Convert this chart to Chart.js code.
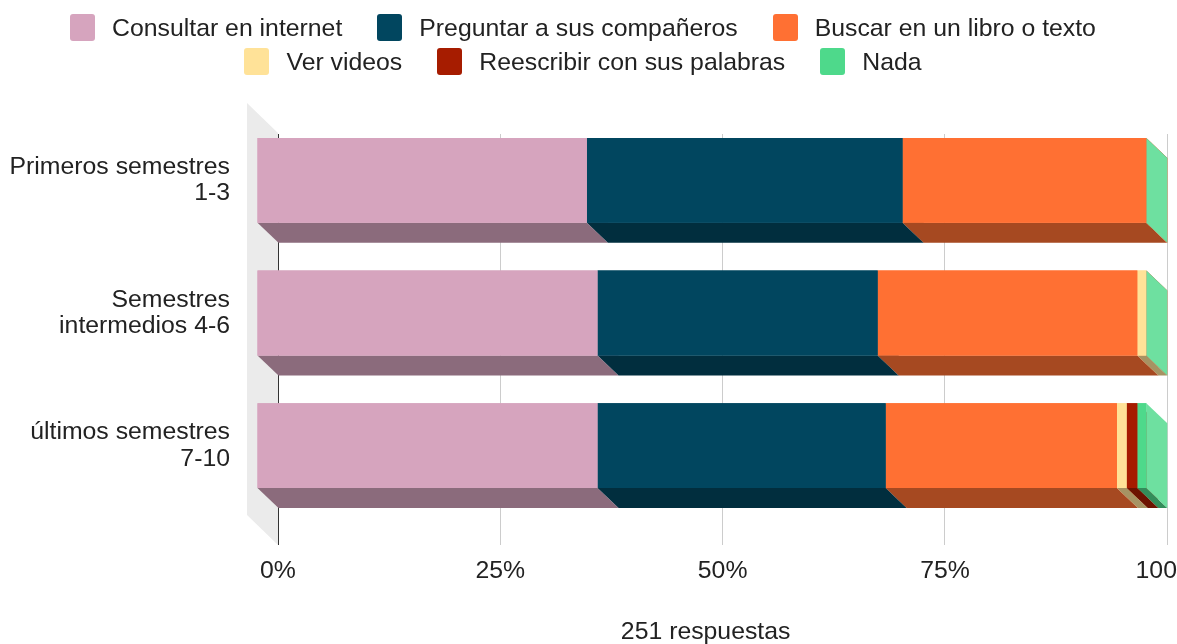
<!DOCTYPE html>
<html>
<head>
<meta charset="utf-8">
<script src="https://cdn.jsdelivr.net/npm/chart.js"></script>
<style>
    body { margin: 0; overflow: hidden; background: #fff; }
    #contenedor { position: absolute; left: 0; top: 0; width: 1210px; height: 644px; }
    #leyenda {
        position: absolute; left: 0; top: 14px; width: 1166px; padding: 0 20px; box-sizing: border-box;
        display: flex; flex-wrap: wrap; justify-content: center; column-gap: 35px; row-gap: 7px;
        font: 24.8px 'Liberation Sans', Arial, sans-serif; color: #222;
    }
    .item { display: flex; align-items: center; height: 27px; gap: 17px; white-space: nowrap; }
    .caja { width: 25px; height: 27px; border-radius: 3px; }
</style>
</head>
<body>
<div id="contenedor"><canvas id="graphic-3d" width="1210" height="644"></canvas></div>
<div id="leyenda"></div>
<script>
// Datos (porcentaje de respuestas por grupo)
const categorias = [['Primeros semestres', '1-3'], ['Semestres', 'intermedios 4-6'], ['últimos semestres', '7-10']];
const series = ['Consultar en internet', 'Preguntar a sus compañeros', 'Buscar en un libro o texto', 'Ver videos', 'Reescribir con sus palabras', 'Nada'];
const colores = ['#d6a4be', '#01465f', '#ff7033', '#ffe298', '#a61c00', '#4ed98b'];
const consultar = [37.1, 38.3, 38.3];
const preguntar = [35.5, 31.5, 32.4];
const buscar = [27.4, 29.2, 26.0];
const videos = [0, 1.0, 1.1];
const reescribir = [0, 0, 1.2];
const nada = [0, 0, 1.0];
const ticksX = [0, 25, 50, 75, 100];
const totalRespuestas = '251 respuestas';

const valores = [consultar, preguntar, buscar, videos, reescribir, nada];
const DX = 21, DY = 20;
const fuente = "'Liberation Sans', Arial, sans-serif";
const tamFuente = 24.8;

function mezcla(hex, f, hacia) {
    const n = parseInt(hex.slice(1), 16);
    const c = [(n >> 16) & 255, (n >> 8) & 255, n & 255].map(v => Math.round(v + (hacia - v) * f));
    return 'rgb(' + c.join(',') + ')';
}

function poligono(ctx, pts, color) {
    ctx.beginPath();
    ctx.moveTo(pts[0][0], pts[0][1]);
    for (let i = 1; i < pts.length; i++) ctx.lineTo(pts[i][0], pts[i][1]);
    ctx.closePath();
    ctx.fillStyle = color;
    ctx.fill();
}

// caras laterales de las barras 3D (en orden de apilado)
const barras3d = {
    id: 'barras3d',
    beforeDraw(chart) {
        const a = chart.chartArea, ctx = chart.ctx;
        poligono(ctx, [[a.left - 31, a.top - 31], [a.left, a.top - 1], [a.left, a.bottom + 13], [a.left - 31, a.bottom - 17]], '#ebebeb');
    },
    beforeDatasetsDraw(chart) {
        const ctx = chart.ctx;
        chart.data.datasets.forEach((d, i) => {
            const color = d.backgroundColor;
            chart.getDatasetMeta(i).data.forEach(el => {
                const p = el.getProps(['x', 'y', 'base', 'height'], true);
                const izq = Math.min(p.x, p.base) - DX, der = Math.max(p.x, p.base) - DX;
                const arriba = p.y - p.height / 2 - DY, abajo = p.y + p.height / 2 - DY;
                poligono(ctx, [[izq, abajo], [der, abajo], [der + DX, abajo + DY], [izq + DX, abajo + DY]], mezcla(color, 0.35, 0));
                poligono(ctx, [[der, arriba], [der + DX, arriba + DY], [der + DX, abajo + DY], [der, abajo]], mezcla(color, 0.18, 255));
                if (der > izq) poligono(ctx, [[izq, arriba], [der, arriba], [der, abajo], [izq, abajo]], color);
            });
        });
        ctx.save();
        ctx.translate(-DX, -DY);
    },
    afterDatasetsDraw(chart) {
        chart.ctx.restore();
    },
    afterDraw(chart) {
        const a = chart.chartArea, ctx = chart.ctx;
        ctx.save();
        ctx.font = tamFuente + 'px ' + fuente;
        ctx.fillStyle = '#222';
        ctx.textAlign = 'center';
        ctx.textBaseline = 'middle';
        ctx.fillText(totalRespuestas, (a.left + a.right) / 2 - 17, 632);
        ctx.restore();
    }
};

const dataGraphic3d = document.getElementById('graphic-3d');

var chart3d = new Chart(dataGraphic3d, {
    type: 'bar',
    data: {
        labels: categorias,
        datasets: series.map((s, i) => ({
            label: s,
            data: valores[i],
            backgroundColor: colores[i],
            borderWidth: 0,
            barPercentage: 0.64,
            categoryPercentage: 1,
            clip: false
        }))
    },
    options: {
        indexAxis: 'y',
        responsive: false,
        animation: false,
        devicePixelRatio: 1,
        layout: { padding: { top: 134, right: 41, bottom: 0, left: 0 } },
        scales: {
            x: {
                stacked: true,
                min: 0,
                max: 100,
                afterBuildTicks: s => { s.ticks = ticksX.map(v => ({ value: v })); },
                afterFit: s => { s.height = 112; },
                border: { display: false },
                grid: {
                    color: c => c.tick && c.tick.value === 0 ? '#333' : '#ccc',
                    tickLength: 13
                },
                ticks: {
                    padding: 11,
                    color: '#222',
                    font: { size: tamFuente, family: fuente },
                    callback: v => v + '%'
                }
            },
            y: {
                stacked: true,
                afterFit: s => { s.width = 278; },
                border: { display: false },
                grid: { display: false, drawTicks: false },
                ticks: {
                    padding: 48,
                    labelOffset: -DY,
                    color: '#222',
                    font: { size: tamFuente, family: fuente, lineHeight: 1.06 }
                }
            }
        },
        plugins: {
            legend: { display: false },
            tooltip: { enabled: false }
        }
    },
    plugins: [barras3d]
});

// leyenda
const leyenda = document.getElementById('leyenda');
chart3d.data.datasets.forEach(d => {
    const item = document.createElement('div');
    item.className = 'item';
    item.innerHTML = '<span class="caja" style="background:' + d.backgroundColor + '"></span><span>' + d.label + '</span>';
    leyenda.appendChild(item);
});
</script>
</body>
</html>
